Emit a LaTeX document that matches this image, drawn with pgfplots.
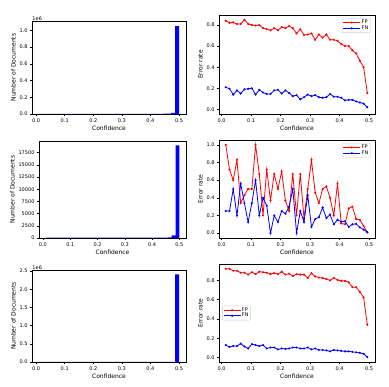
\documentclass[border=0pt]{standalone}
\usepackage{fontspec}
\setmainfont{DejaVu Sans}
\usepackage{pgfplots}
\pgfplotsset{compat=1.18}
\usepackage{pgfplotstable}

% histogram tables: bin left edges (0.01 + 0.014k), counts
\pgfplotstableread{
x y
0.010 0
0.024 0
0.038 0
0.052 0
0.066 0
0.080 0
0.094 0
0.108 0
0.122 0
0.136 0
0.150 0
0.164 0
0.178 0
0.192 0
0.206 0
0.220 0
0.234 0
0.248 0
0.262 0
0.276 0
0.290 0
0.304 0
0.318 0
0.332 0
0.346 0
0.360 0
0.374 0
0.388 0
0.402 0
0.416 0.002
0.430 0.002
0.444 0.003
0.458 0.004
0.472 0.012
0.486 1.05
0.500 1.05
}\histA

\pgfplotstableread{
x y
0.010 60
0.024 60
0.038 60
0.052 60
0.066 60
0.080 60
0.094 60
0.108 60
0.122 60
0.136 60
0.150 60
0.164 60
0.178 60
0.192 60
0.206 60
0.220 60
0.234 60
0.248 60
0.262 60
0.276 60
0.290 60
0.304 70
0.318 70
0.332 70
0.346 70
0.360 70
0.374 80
0.388 80
0.402 80
0.416 90
0.430 90
0.444 100
0.458 120
0.472 550
0.486 19000
0.500 19000
}\histB

\pgfplotstableread{
x y
0.010 0
0.024 0
0.038 0
0.052 0
0.066 0
0.080 0
0.094 0
0.108 0
0.122 0
0.136 0
0.150 0
0.164 0
0.178 0
0.192 0
0.206 0
0.220 0
0.234 0
0.248 0
0.262 0
0.276 0
0.290 0
0.304 0
0.318 0
0.332 0
0.346 0
0.360 0
0.374 0
0.388 0
0.402 0
0.416 0
0.430 0
0.444 0
0.458 0.001
0.472 0.005
0.486 2.41
0.500 2.41
}\histC

% error rate tables
\pgfplotstableread{
x fp fn
0.0140 0.840 0.210
0.0266 0.820 0.195
0.0393 0.825 0.140
0.0519 0.810 0.180
0.0645 0.810 0.150
0.0772 0.850 0.190
0.0898 0.810 0.195
0.1024 0.800 0.200
0.1150 0.795 0.140
0.1277 0.800 0.185
0.1403 0.770 0.160
0.1529 0.760 0.145
0.1656 0.750 0.145
0.1782 0.770 0.180
0.1908 0.750 0.185
0.2035 0.780 0.150
0.2161 0.770 0.180
0.2287 0.790 0.155
0.2413 0.770 0.125
0.2540 0.720 0.135
0.2666 0.760 0.095
0.2792 0.705 0.115
0.2919 0.710 0.140
0.3045 0.720 0.125
0.3171 0.660 0.135
0.3298 0.710 0.115
0.3424 0.680 0.110
0.3550 0.710 0.115
0.3676 0.660 0.145
0.3803 0.660 0.120
0.3929 0.650 0.120
0.4055 0.620 0.110
0.4182 0.600 0.085
0.4308 0.600 0.090
0.4434 0.560 0.090
0.4561 0.530 0.075
0.4687 0.460 0.065
0.4813 0.400 0.055
0.4940 0.155 0.020
}\errA

\pgfplotstableread{
x fp fn
0.0140 1.000 0.250
0.0266 0.720 0.250
0.0393 0.600 0.500
0.0519 0.830 0.200
0.0645 0.340 0.560
0.0772 0.430 0.340
0.0898 0.500 0.125
0.1024 0.500 0.340
0.1150 1.000 0.600
0.1277 0.670 0.200
0.1403 0.200 0.400
0.1529 0.720 0.310
0.1656 0.370 0.000
0.1782 0.670 0.200
0.1908 0.500 0.125
0.2035 0.700 0.250
0.2161 0.370 0.220
0.2287 0.250 0.300
0.2413 0.670 0.500
0.2540 0.200 0.000
0.2666 0.670 0.250
0.2792 0.170 0.125
0.2919 0.500 0.430
0.3045 0.830 0.070
0.3171 0.460 0.160
0.3298 0.340 0.180
0.3424 0.500 0.290
0.3550 0.530 0.170
0.3676 0.400 0.210
0.3803 0.200 0.100
0.3929 0.560 0.150
0.4055 0.110 0.130
0.4182 0.100 0.135
0.4308 0.280 0.070
0.4434 0.300 0.100
0.4561 0.160 0.105
0.4687 0.150 0.065
0.4813 0.080 0.040
0.4940 0.010 0.010
}\errB

\pgfplotstableread{
x fp fn
0.0140 0.920 0.130
0.0266 0.920 0.110
0.0393 0.900 0.120
0.0519 0.900 0.120
0.0645 0.880 0.145
0.0772 0.880 0.115
0.0898 0.860 0.095
0.1024 0.885 0.140
0.1150 0.865 0.130
0.1277 0.890 0.120
0.1403 0.885 0.130
0.1529 0.880 0.095
0.1656 0.865 0.105
0.1782 0.875 0.105
0.1908 0.865 0.085
0.2035 0.890 0.095
0.2161 0.860 0.090
0.2287 0.870 0.095
0.2413 0.845 0.105
0.2540 0.865 0.105
0.2666 0.860 0.095
0.2792 0.860 0.095
0.2919 0.825 0.105
0.3045 0.875 0.085
0.3171 0.840 0.095
0.3298 0.830 0.080
0.3424 0.825 0.080
0.3550 0.815 0.075
0.3676 0.800 0.065
0.3803 0.825 0.080
0.3929 0.805 0.075
0.4055 0.795 0.070
0.4182 0.795 0.065
0.4308 0.780 0.065
0.4434 0.730 0.060
0.4561 0.730 0.055
0.4687 0.680 0.050
0.4813 0.625 0.040
0.4940 0.340 0.005
}\errC

\pgfplotsset{
  base/.style={
    scale only axis,
    anchor=south west,
    clip mode=individual,
    scaled y ticks=false,
    axis line style={black, line width=0.8pt},
    tick style={black, line width=0.5pt},
    tick align=outside,
    major tick length=2pt,
    xtick pos=left, ytick pos=left,
    ticklabel style={font=\fontsize{5}{5.5}\selectfont},
    label style={font=\fontsize{6}{7}\selectfont},
    /pgf/number format/assume math mode=true,
    xtick={0,0.1,0.2,0.3,0.4,0.5},
    xticklabels={0.0,0.1,0.2,0.3,0.4,0.5},
    xlabel={Confidence},
    xlabel style={yshift=3.5pt},
    ylabel style={yshift=-3pt},
    xticklabel style={yshift=1pt},
    yticklabel style={xshift=1pt},
  },
  hist/.style={base, xmin=-0.0145, xmax=0.5245, ymin=0,
    ylabel={Number of Documents}},
  err/.style={base, xmin=-0.009, xmax=0.52, ylabel={Error rate},
    legend cell align=left,
    legend style={font=\fontsize{5}{5.5}\selectfont, draw=gray!40,
      rounded corners=1pt, inner sep=0.8pt, row sep=-1.5pt,
      nodes={inner sep=1pt}},
  },
  fpline/.style={red, line width=0.8pt, mark=*, mark size=0.6pt},
  fnline/.style={blue, line width=0.8pt, mark=*, mark size=0.6pt},
}

\begin{document}
\begin{tikzpicture}
\path[use as bounding box] (0,0) rectangle (389pt,387pt);

% row 1
\begin{axis}[hist, at={(32pt,273pt)}, width=154pt, height=93pt,
  ymax=1.112, ytick={0,0.2,0.4,0.6,0.8,1.0},
  yticklabels={0.0,0.2,0.4,0.6,0.8,1.0}]
\addplot[ybar interval, fill=blue, draw=none] table[x=x,y=y] {\histA};
\node[anchor=south west, font=\fontsize{5}{5.5}\selectfont, inner sep=0.3pt] at (rel axis cs:0,1) {1e6};
\end{axis}

\begin{axis}[err, at={(219pt,273pt)}, width=156pt, height=99pt,
  ymin=-0.044, ymax=0.895, ytick={0,0.2,0.4,0.6,0.8},
  yticklabels={0.0,0.2,0.4,0.6,0.8},
  legend style={at={(0.97,0.97)}, anchor=north east}]
\addplot[fpline] table[x=x,y=fp] {\errA};
\addlegendentry{FP}
\addplot[fnline] table[x=x,y=fn] {\errA};
\addlegendentry{FN}
\end{axis}

% row 2
\begin{axis}[hist, at={(39pt,149pt)}, width=147pt, height=97pt,
  ymax=19900, ytick={0,2500,5000,7500,10000,12500,15000,17500},
  yticklabels={0,2500,5000,7500,10000,12500,15000,17500}]
\addplot[ybar interval, fill=blue, draw=none] table[x=x,y=y] {\histB};
\end{axis}

\begin{axis}[err, at={(219pt,149pt)}, width=156pt, height=98pt,
  ymin=-0.055, ymax=1.055, ytick={0,0.2,0.4,0.6,0.8,1.0},
  yticklabels={0.0,0.2,0.4,0.6,0.8,1.0},
  legend style={at={(0.97,0.97)}, anchor=north east}]
\addplot[fpline] table[x=x,y=fp] {\errB};
\addlegendentry{FP}
\addplot[fnline] table[x=x,y=fn] {\errB};
\addlegendentry{FN}
\end{axis}

% row 3
\begin{axis}[hist, at={(32pt,25pt)}, width=154pt, height=92pt,
  ymax=2.53, ytick={0,0.5,1.0,1.5,2.0,2.5},
  yticklabels={0.0,0.5,1.0,1.5,2.0,2.5}]
\addplot[ybar interval, fill=blue, draw=none] table[x=x,y=y] {\histC};
\node[anchor=south west, font=\fontsize{5}{5.5}\selectfont, inner sep=0.3pt] at (rel axis cs:0,1) {1e6};
\end{axis}

\begin{axis}[err, at={(219pt,25pt)}, width=156pt, height=98pt,
  ymin=-0.045, ymax=0.97, ytick={0,0.2,0.4,0.6,0.8},
  yticklabels={0.0,0.2,0.4,0.6,0.8},
  legend style={at={(0.02,0.5)}, anchor=west}]
\addplot[fpline] table[x=x,y=fp] {\errC};
\addlegendentry{FP}
\addplot[fnline] table[x=x,y=fn] {\errC};
\addlegendentry{FN}
\end{axis}
\end{tikzpicture}
\end{document}
